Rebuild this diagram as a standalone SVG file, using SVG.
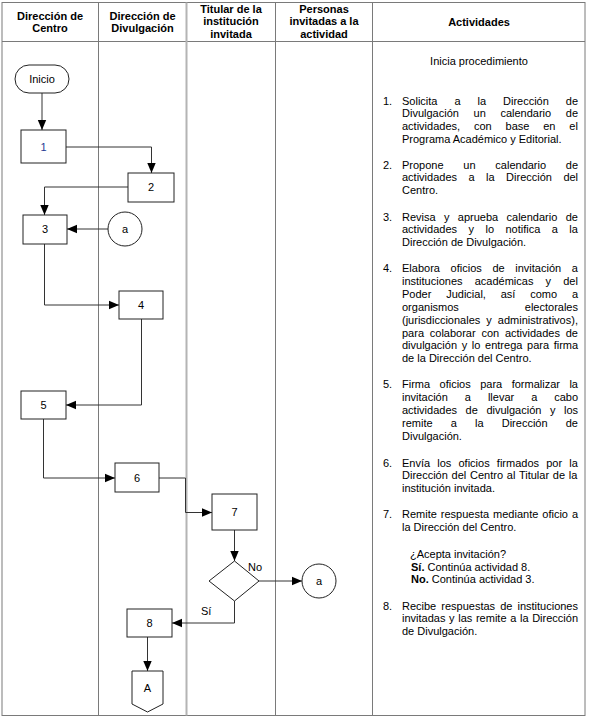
<svg xmlns="http://www.w3.org/2000/svg" width="589" height="719" viewBox="0 0 589 719">
<style>
.t{font-family:"Liberation Sans",Arial,sans-serif;font-size:11px;fill:#000}
.h{font-family:"Liberation Sans",Arial,sans-serif;font-size:11px;font-weight:bold;fill:#000;text-anchor:middle}
.c{text-anchor:middle}
.b{font-weight:bold}
.grid{stroke:#7a7a7a;stroke-width:1;fill:none}
.shape{fill:#fff;stroke:#222;stroke-width:1}
.conn{fill:none;stroke:#333;stroke-width:1}
</style>
<defs>
<marker id="arr" markerUnits="userSpaceOnUse" markerWidth="10" markerHeight="10" viewBox="0 0 10 10" refX="10" refY="5" orient="auto">
<path d="M0,0.8 L10,5 L0,9.2 Z" fill="#000"/>
</marker>
</defs>
<rect width="589" height="719" fill="#fff"/>
<g id="table">
<rect class="grid" x="2" y="2.5" width="583" height="713" stroke-width="1.5"/>
<line class="grid" x1="2" y1="41.5" x2="585" y2="41.5"/>
<line class="grid" x1="98.5" y1="2.5" x2="98.5" y2="715.5"/>
<line x1="186.5" y1="2.5" x2="186.5" y2="715.5" stroke="#b4b4b4" stroke-width="2"/>
<line class="grid" x1="275.5" y1="2.5" x2="275.5" y2="715.5"/>
<line class="grid" x1="372.5" y1="2.5" x2="372.5" y2="715.5"/>
<text class="h" x="50" y="19.5">Dirección de</text>
<text class="h" x="50" y="32">Centro</text>
<text class="h" x="142.5" y="19.5">Dirección de</text>
<text class="h" x="142.5" y="32">Divulgación</text>
<text class="h" x="231" y="12.5">Titular de la</text>
<text class="h" x="231" y="25">institución</text>
<text class="h" x="231" y="37.5">invitada</text>
<text class="h" x="324" y="12.5">Personas</text>
<text class="h" x="324" y="25">invitadas a la</text>
<text class="h" x="324" y="37.5">actividad</text>
<text class="h" x="479" y="26">Actividades</text>
</g>
<g id="connectors">
<path class="conn" d="M42,93 V130" marker-end="url(#arr)"/>
<path class="conn" d="M66,147 H151.5 V173" marker-end="url(#arr)"/>
<path class="conn" d="M128,187 H44.5 V215" marker-end="url(#arr)"/>
<path class="conn" d="M108,229 H67" marker-end="url(#arr)"/>
<path class="conn" d="M44.5,244 V305 H119" marker-end="url(#arr)"/>
<path class="conn" d="M141.5,319 V405 H66" marker-end="url(#arr)"/>
<path class="conn" d="M43.5,419 V478 H115" marker-end="url(#arr)"/>
<path class="conn" d="M159,478 H185.5 V512.5 H212" marker-end="url(#arr)"/>
<path class="conn" d="M234.5,530 V561" marker-end="url(#arr)"/>
<path class="conn" d="M259,581 H302" marker-end="url(#arr)"/>
<path class="conn" d="M234.5,601 V623 H172" marker-end="url(#arr)"/>
<path class="conn" d="M147.5,637 V671" marker-end="url(#arr)"/>
<text class="t" x="248" y="571">No</text>
<text class="t" x="201" y="615">Sí</text>
</g>
<g id="inicio"><rect class="shape" x="15" y="65" width="54" height="28" rx="14"/><text class="t c" x="42" y="83">Inicio</text></g>
<g id="n1"><rect class="shape" x="21" y="130" width="45" height="33"/><text class="t c" x="43.5" y="151" style="fill:#1f3a93">1</text></g>
<g id="n2"><rect class="shape" x="128" y="173" width="46" height="29"/><text class="t c" x="151" y="191">2</text></g>
<g id="n3"><rect class="shape" x="23" y="215" width="44" height="29"/><text class="t c" x="45" y="233">3</text></g>
<g id="ca1"><circle class="shape" cx="125" cy="229" r="17"/><text class="t c" x="125" y="233">a</text></g>
<g id="n4"><rect class="shape" x="119" y="291" width="44" height="28"/><text class="t c" x="141" y="309">4</text></g>
<g id="n5"><rect class="shape" x="21" y="391" width="45" height="28"/><text class="t c" x="43.5" y="409">5</text></g>
<g id="n6"><rect class="shape" x="115" y="463" width="44" height="29"/><text class="t c" x="137" y="482">6</text></g>
<g id="n7"><rect class="shape" x="212" y="494" width="45" height="36"/><text class="t c" x="234.5" y="516">7</text></g>
<g id="dec"><polygon class="shape" points="209,581 234.5,561 259,581 234.5,601"/></g>
<g id="ca2"><circle class="shape" cx="319" cy="581" r="17"/><text class="t c" x="319" y="585">a</text></g>
<g id="n8"><rect class="shape" x="127" y="609" width="45" height="28"/><text class="t c" x="149.5" y="627">8</text></g>
<g id="offA"><polygon class="shape" points="132,671 163,671 163,704 147.5,712 132,704"/><text class="t c" x="147.5" y="692">A</text></g>
<g id="actividades">
<text class="t c" x="479" y="65">Inicia procedimiento</text>
<text class="t" x="383" y="104.5">1.</text>
<text class="t" x="402" y="104.5" word-spacing="13.9">Solicita a la Dirección de</text>
<text class="t" x="402" y="117.4" word-spacing="11.6">Divulgación un calendario de</text>
<text class="t" x="402" y="130.3" word-spacing="10.8">actividades, con base en el</text>
<text class="t" x="402" y="143.2">Programa Académico y Editorial.</text>
<text class="t" x="383" y="168.5">2.</text>
<text class="t" x="402" y="168.5" word-spacing="16.7">Propone un calendario de</text>
<text class="t" x="402" y="181.4" word-spacing="8.4">actividades a la Dirección del</text>
<text class="t" x="402" y="194.3">Centro.</text>
<text class="t" x="383" y="220.5">3.</text>
<text class="t" x="402" y="220.5" word-spacing="5.3">Revisa y aprueba calendario de</text>
<text class="t" x="402" y="233.4" word-spacing="8.4">actividades y lo notifica a la</text>
<text class="t" x="402" y="246.3">Dirección de Divulgación.</text>
<text class="t" x="383" y="272">4.</text>
<text class="t" x="402" y="272" word-spacing="7.6">Elabora oficios de invitación a</text>
<text class="t" x="402" y="284.9" word-spacing="9.1">instituciones académicas y del</text>
<text class="t" x="402" y="297.8" word-spacing="11.75">Poder Judicial, así como a</text>
<text class="t" x="402" y="310.7">organismos</text>
<text class="t" x="578" y="310.7" text-anchor="end">electorales</text>
<text class="t" x="402" y="323.6" word-spacing="3">(jurisdiccionales y administrativos),</text>
<text class="t" x="402" y="336.5" word-spacing="2.7">para colaborar con actividades de</text>
<text class="t" x="402" y="349.4" word-spacing="1.6">divulgación y lo entrega para firma</text>
<text class="t" x="402" y="362.3">de la Dirección del Centro.</text>
<text class="t" x="383" y="388.3">5.</text>
<text class="t" x="402" y="388.3" word-spacing="6.4">Firma oficios para formalizar la</text>
<text class="t" x="402" y="401.2" word-spacing="13.9">invitación a llevar a cabo</text>
<text class="t" x="402" y="414.1" word-spacing="5.5">actividades de divulgación y los</text>
<text class="t" x="402" y="427" word-spacing="15.1">remite a la Dirección de</text>
<text class="t" x="402" y="439.9">Divulgación.</text>
<text class="t" x="383" y="466.5">6.</text>
<text class="t" x="402" y="466.5" word-spacing="4.1">Envía los oficios firmados por la</text>
<text class="t" x="402" y="479.4" word-spacing="0.7">Dirección del Centro al Titular de la</text>
<text class="t" x="402" y="492.3">institución invitada.</text>
<text class="t" x="383" y="518.3">7.</text>
<text class="t" x="402" y="518.3" word-spacing="0.9">Remite respuesta mediante oficio a</text>
<text class="t" x="402" y="531.2">la Dirección del Centro.</text>
<text class="t" x="410" y="558">¿Acepta invitación?</text>
<text class="t" x="411" y="570.5"><tspan class="b">Sí.</tspan> Continúa actividad 8.</text>
<text class="t" x="411" y="583"><tspan class="b">No.</tspan> Continúa actividad 3.</text>
<text class="t" x="383" y="609.5">8.</text>
<text class="t" x="402" y="609.5" word-spacing="2">Recibe respuestas de instituciones</text>
<text class="t" x="402" y="622.4" word-spacing="0.6">invitadas y las remite a la Dirección</text>
<text class="t" x="402" y="635.3">de Divulgación.</text>
</g>
</svg>
